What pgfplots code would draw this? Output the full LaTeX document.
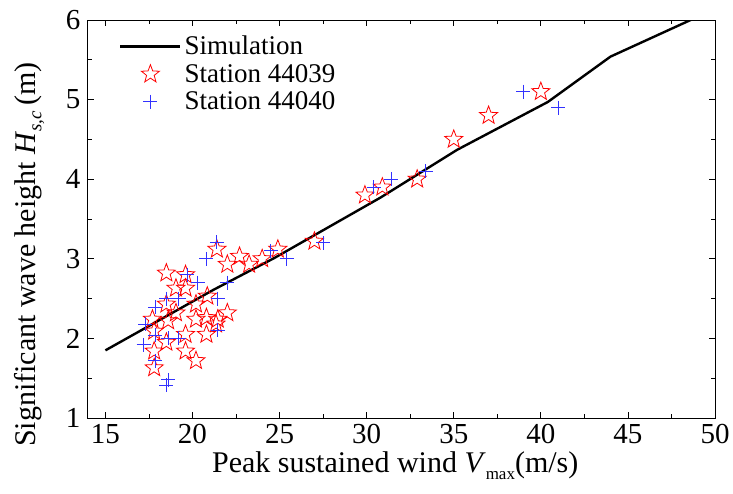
\documentclass[border=0pt]{standalone}
\usepackage{pgfplots}
\pgfplotsset{compat=1.18}
\usepackage{fontspec}
\setmainfont{Liberation Serif}
\definecolor{starred}{RGB}{255,0,0}
\definecolor{crossblue}{RGB}{50,50,255}
\pgfdeclareplotmark{pentastar}{%
  \pgfpathmoveto{\pgfpointpolar{90}{\pgfplotmarksize}}%
  \pgfpathlineto{\pgfpointpolar{126}{0.42\pgfplotmarksize}}%
  \pgfpathlineto{\pgfpointpolar{162}{\pgfplotmarksize}}%
  \pgfpathlineto{\pgfpointpolar{198}{0.42\pgfplotmarksize}}%
  \pgfpathlineto{\pgfpointpolar{234}{\pgfplotmarksize}}%
  \pgfpathlineto{\pgfpointpolar{270}{0.42\pgfplotmarksize}}%
  \pgfpathlineto{\pgfpointpolar{306}{\pgfplotmarksize}}%
  \pgfpathlineto{\pgfpointpolar{342}{0.42\pgfplotmarksize}}%
  \pgfpathlineto{\pgfpointpolar{18}{\pgfplotmarksize}}%
  \pgfpathlineto{\pgfpointpolar{54}{0.42\pgfplotmarksize}}%
  \pgfpathclose\pgfusepathqstroke}
\begin{document}
\begin{tikzpicture}
\path[use as bounding box] (-88pt,-75pt) rectangle (645pt,418pt);
\begin{axis}[
  at={(0pt,0pt)}, anchor=south west,
  scale only axis, width=627pt, height=398pt,
  xmin=14, xmax=50, ymin=1, ymax=6,
  xtick={15,20,...,50}, ytick={1,2,...,6},
  minor x tick num=1, minor y tick num=1,
  tick align=inside,
  major tick length=6pt, minor tick length=4pt,
  axis line style={line width=1pt},
  every tick/.style={black, line width=0.8pt},
  /pgf/number format/assume math mode=true,
  tick label style={font=\fontsize{29}{29}\selectfont},
  xticklabel style={yshift=-3pt},
  yticklabel style={xshift=-4pt},
  xlabel={Peak sustained wind \textit{V}\raisebox{-0.55ex}{\fontsize{17}{17}\selectfont max}(m/s)},
  ylabel={Significant wave height \textit{H}\raisebox{-0.45ex}{\fontsize{19}{19}\selectfont\textit{s,c}}\,(m)},
  label style={font=\fontsize{30}{30}\selectfont},
  xlabel style={at={(axis description cs:0.49,0)}, anchor=north, yshift=-30pt},
  ylabel style={at={(axis description cs:-0.094,0.41)}, anchor=center},
  legend cell align=left,
  legend style={draw=none, fill=none, at={(axis description cs:0,1)}, anchor=north west,
    xshift=28pt, yshift=-11pt, font=\fontsize{27}{27}\selectfont, row sep=2pt,
    nodes={inner sep=3pt}},
  legend image code/.code={\draw[mark repeat=2,mark phase=2,#1] plot coordinates {(0pt,0pt) (30pt,0pt) (60pt,0pt)};},
]
\addplot[black, line width=2.4pt] coordinates {
(15,1.85) (21.2,2.61) (24.7,3.01) (30.8,3.77) (35.2,4.37) (40.4,4.97) (44,5.54) (50,6.14)};
\addlegendentry{Simulation}
\addplot[only marks, mark=pentastar, mark size=9.5pt, starred, line width=0.8pt] coordinates {
(21.4,3.12) (18.5,2.82) (19.6,2.80) (19.05,2.63) (19.6,2.63) (22.7,3.03) (22.0,2.93)
(23.25,2.93) (24.0,3.0) (24.9,3.12) (27.0,3.22) (20.85,2.53) (20.2,2.43) (19.05,2.32)
(18.5,2.43) (17.7,2.24) (20.2,2.24) (20.8,2.26) (21.45,2.24) (22.0,2.32) (18.6,2.22)
(17.8,2.09) (18.5,1.95) (19.6,2.05) (20.8,2.05) (19.6,1.84) (20.2,1.72) (17.8,1.84)
(17.8,1.63) (21.35,2.18) (29.9,3.8) (30.9,3.9) (32.9,4.0) (35.0,4.5) (37.0,4.8) (40.0,5.1)};
\addlegendentry{Station 44039}
\addplot[only marks, mark=+, mark size=7pt, crossblue, line width=1.0pt] coordinates {
(21.4,3.21) (20.8,3.0) (24.5,3.1) (19.7,2.8) (20.3,2.7) (22.0,2.7) (18.5,2.5) (19.2,2.5)
(21.45,2.5) (17.85,2.39) (17.3,2.18) (17.87,2.04) (17.2,1.92) (18.6,2.0) (19.2,2.0)
(21.45,2.1) (17.87,1.72) (18.6,1.48) (18.5,1.41) (25.4,3.0) (27.5,3.2) (30.4,3.9)
(31.4,4.0) (33.4,4.1) (39.0,5.1) (41.0,4.9)};
\addlegendentry{Station 44040}
\end{axis}
\end{tikzpicture}
\end{document}
